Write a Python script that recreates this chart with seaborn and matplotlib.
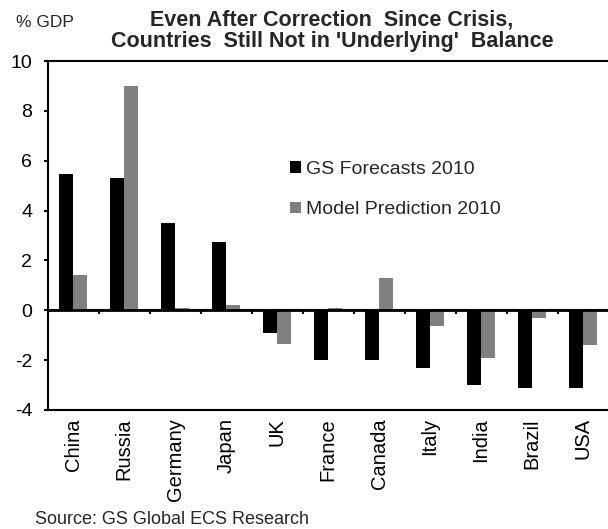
import numpy as np
import pandas as pd
import matplotlib
matplotlib.use('Agg')
import matplotlib.pyplot as plt
import seaborn as sns

countries = ['China', 'Russia', 'Germany', 'Japan', 'UK', 'France', 'Canada', 'Italy', 'India', 'Brazil', 'USA']
gs_forecast = [5.45, 5.3, 3.5, 2.75, -0.9, -2.0, -2.0, -2.3, -3.0, -3.1, -3.1]
model_pred = [1.4, 9.0, 0.1, 0.2, -1.35, 0.1, 1.3, -0.65, -1.9, -0.3, -1.4]
series_names = ['GS Forecasts 2010', 'Model Prediction 2010']
yticks = [-4, -2, 0, 2, 4, 6, 8, 10]

df = pd.DataFrame({
    'country': countries * 2,
    'value': gs_forecast + model_pred,
    'series': [series_names[0]] * len(countries) + [series_names[1]] * len(countries),
})

sns.set_style('white')
plt.rcParams['font.family'] = ['Liberation Sans', 'DejaVu Sans']

fig = plt.figure(figsize=(6.08, 5.29), dpi=100)
ax = fig.add_axes([47.5 / 608, 1 - 410 / 529, 561 / 608, (410 - 61) / 529])

sns.barplot(data=df, x='country', y='value', hue='series', order=countries,
            hue_order=series_names, palette=['#000000', '#808080'],
            width=0.56, saturation=1, edgecolor='none', linewidth=0, ax=ax)

ax.set_xlim(-0.5, len(countries) - 0.5)
ax.set_ylim(-4, 10)
ax.set_yticks(yticks)
ax.set_yticklabels([str(v) for v in yticks], fontsize=14)
ax.set_xticks(range(len(countries)))
ax.set_xticklabels(countries, rotation=90, fontsize=14.5)
ax.set_xlabel('')
ax.set_ylabel('')

for s in ['left', 'bottom', 'top']:
    ax.spines[s].set_linewidth(1.5)
    ax.spines[s].set_color('black')
ax.spines['right'].set_visible(False)

ax.tick_params(axis='y', direction='out', length=3, width=1.5, pad=8, left=True, colors='black')
ax.tick_params(axis='x', length=0, pad=6, colors='black')

# zero line with ticks between categories
ax.axhline(0, color='black', linewidth=2, zorder=10)
sec = ax.secondary_xaxis(0, transform=ax.transData)
sec.set_xticks(np.arange(len(countries) + 1) - 0.5)
sec.set_xticklabels([])
sec.tick_params(direction='out', length=3, width=1.5, colors='black')
sec.spines['bottom'].set_linewidth(1.5)

handles, labels = ax.get_legend_handles_labels()
ax.legend(handles, labels, loc='upper left', bbox_to_anchor=(290 / 608, 1 - 161 / 529),
          bbox_transform=fig.transFigure, frameon=False, fontsize=14,
          handlelength=0.55, handleheight=0.55, handletextpad=0.25,
          labelspacing=1.2, borderpad=0, borderaxespad=0)

fig.text(332 / 608, 1 - 47 / 529,
         "Even After Correction  Since Crisis,\nCountries  Still Not in 'Underlying'  Balance",
         ha='center', va='baseline', fontsize=15.5, fontweight='bold', linespacing=1.05)
fig.text(16 / 608, 1 - 27 / 529, '% GDP', ha='left', va='baseline', fontsize=12.5)
fig.text(35 / 608, 1 - 524 / 529, 'Source: GS Global ECS Research', ha='left', va='baseline', fontsize=13)

fig.savefig('out.png', dpi=100)
